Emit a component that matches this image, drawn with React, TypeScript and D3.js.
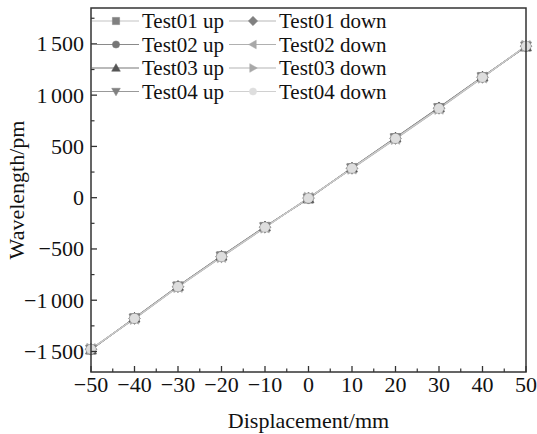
import React from "react";
import * as d3 from "d3";

const displacement = [-50, -40, -30, -20, -10, 0, 10, 20, 30, 40, 50];
const test01Up = [-1480, -1176, -866, -572, -286, -6, 288, 580, 874, 1176, 1476];
const test01Down = [-1478, -1178, -868, -576, -288, -4, 286, 578, 872, 1174, 1478];
const test02Up = [-1482, -1174, -864, -570, -284, -8, 290, 584, 878, 1178, 1474];
const test02Down = [-1476, -1180, -870, -578, -290, -2, 284, 574, 868, 1172, 1480];
const test03Up = [-1484, -1172, -862, -568, -282, -10, 292, 586, 880, 1180, 1472];
const test03Down = [-1474, -1182, -872, -580, -292, 0, 282, 572, 866, 1170, 1482];
const test04Up = [-1480, -1175, -865, -570, -285, -6, 289, 582, 876, 1177, 1477];
const test04Down = [-1478, -1177, -868, -575, -288, -5, 287, 578, 871, 1174, 1478];

const xTicks = [-50, -40, -30, -20, -10, 0, 10, 20, 30, 40, 50];
const xTickLabels = ["\u221250", "\u221240", "\u221230", "\u221220", "\u221210", "0", "10", "20", "30", "40", "50"];
const yTicks = [-1500, -1000, -500, 0, 500, 1000, 1500];
const yTickLabels = ["\u22121 500", "\u22121 000", "\u2212500", "0", "500", "1 000", "1 500"];

const seriesNames = ["Test01 up", "Test02 up", "Test03 up", "Test04 up", "Test01 down", "Test02 down", "Test03 down", "Test04 down"];

type S = { name: string; values: number[]; shape: string; fill: string; line: string };

const series: S[] = [
  { name: "Test01 up", values: test01Up, shape: "square", fill: "#808080", line: "#c4c4c4" },
  { name: "Test01 down", values: test01Down, shape: "diamond", fill: "#808080", line: "#b8b8b8" },
  { name: "Test02 up", values: test02Up, shape: "circle", fill: "#777777", line: "#8a8a8a" },
  { name: "Test02 down", values: test02Down, shape: "left", fill: "#a8a8a8", line: "#b0b0b0" },
  { name: "Test03 up", values: test03Up, shape: "up", fill: "#555555", line: "#777777" },
  { name: "Test03 down", values: test03Down, shape: "right", fill: "#a8a8a8", line: "#b4b4b4" },
  { name: "Test04 up", values: test04Up, shape: "down", fill: "#808080", line: "#999999" },
  { name: "Test04 down", values: test04Down, shape: "circle", fill: "#dedede", line: "#d0d0d0" },
];

const W = 537, H = 434;
const L = 91, R = 526, T = 8, B = 372;
const FONT = "'Liberation Serif', 'Times New Roman', serif";

function markerPath(shape: string, r: number): string {
  switch (shape) {
    case "square": return `M${-r},${-r}H${r}V${r}H${-r}Z`;
    case "diamond": return `M0,${-r * 1.3}L${r * 1.3},0L0,${r * 1.3}L${-r * 1.3},0Z`;
    case "circle": return `M${r},0A${r},${r} 0 1,1 ${-r},0A${r},${r} 0 1,1 ${r},0Z`;
    case "up": return `M0,${-r * 1.2}L${r * 1.2},${r * 0.9}L${-r * 1.2},${r * 0.9}Z`;
    case "down": return `M0,${r * 1.2}L${r * 1.2},${-r * 0.9}L${-r * 1.2},${-r * 0.9}Z`;
    case "left": return `M${-r * 1.2},0L${r * 0.9},${-r * 1.2}L${r * 0.9},${r * 1.2}Z`;
    case "right": return `M${r * 1.2},0L${-r * 0.9},${-r * 1.2}L${-r * 0.9},${r * 1.2}Z`;
  }
  return "";
}

function splitLabel(s: string) {
  const parts = s.split(" ");
  if (parts.length === 1) return s;
  return (
    <>
      <tspan>{parts[0]}</tspan>
      <tspan dx={3.5}>{parts[1]}</tspan>
    </>
  );
}

export default function App() {
  const x = d3.scaleLinear().domain([-50, 50]).range([L, R]);
  const y = d3.scaleLinear().domain([-1700, 1850]).range([B, T]);
  const line = d3.line<number>().x((_, i) => x(displacement[i])).y((v) => y(v));
  const xMinor = d3.range(-45, 50, 10);
  const yMinor = d3.range(-1750, 1851, 500).filter((v) => v >= -1700 && v <= 1850);

  const legendRows = [21, 44.5, 68, 91.5];
  const legendCols = [{ x0: 92, xm: 116, x1: 139, tx: 142 }, { x0: 229, xm: 253, x1: 276, tx: 279 }];

  return (
    <svg width={W} height={H} style={{ position: "absolute", left: 0, top: 0, background: "#fff" }} fontFamily={FONT}>
      {series.map((s) => (
        <path key={s.name + "l"} d={line(s.values) || ""} fill="none" stroke={s.line} strokeWidth={1.1} />
      ))}
      {series.map((s) => (
        <g key={s.name + "m"}>
          {s.values.map((v, i) => (
            <path key={i} d={markerPath(s.shape, 4.6)} transform={`translate(${x(displacement[i])},${y(v)})`}
              fill={s.fill} stroke={s.fill} strokeWidth={0.6} />
          ))}
        </g>
      ))}
      <rect x={L} y={T} width={R - L} height={B - T} fill="none" stroke="#333" strokeWidth={1.5} />
      {xTicks.map((t, i) => (
        <g key={"xt" + t}>
          <line x1={x(t)} x2={x(t)} y1={B} y2={B - 6} stroke="#333" strokeWidth={1.3} />
          <text x={x(t)} y={392} fontSize={22} textAnchor="middle" fill="#111">{xTickLabels[i]}</text>
        </g>
      ))}
      {xMinor.map((t) => (
        <line key={"xm" + t} x1={x(t)} x2={x(t)} y1={B} y2={B - 3.5} stroke="#333" strokeWidth={1.2} />
      ))}
      {yTicks.map((t, i) => (
        <g key={"yt" + t}>
          <line x1={L} x2={L + 6} y1={y(t)} y2={y(t)} stroke="#333" strokeWidth={1.3} />
          <text x={84} y={y(t) + 7.5} fontSize={22} textAnchor="end" fill="#111">{splitLabel(yTickLabels[i])}</text>
        </g>
      ))}
      {yMinor.map((t) => (
        <line key={"ym" + t} x1={L} x2={L + 3.5} y1={y(t)} y2={y(t)} stroke="#333" strokeWidth={1.2} />
      ))}
      <text x={(L + R) / 2} y={428} fontSize={22} textAnchor="middle" fill="#111">Displacement/mm</text>
      <text transform={`translate(24,${(T + B) / 2}) rotate(-90)`} fontSize={22} textAnchor="middle" fill="#111">Wavelength/pm</text>
      {series.map((s) => {
        const idx = seriesNames.indexOf(s.name);
        const col = legendCols[Math.floor(idx / 4)];
        const ry = legendRows[idx % 4];
        return (
          <g key={s.name + "lg"}>
            <line x1={col.x0} x2={col.x1} y1={ry} y2={ry} stroke={s.line} strokeWidth={1.2} />
            <path d={markerPath(s.shape, 3.6)} transform={`translate(${col.xm},${ry})`} fill={s.fill} stroke={s.fill} strokeWidth={0.5} />
            <text x={col.tx} y={ry + 7} fontSize={21} fill="#111">{s.name}</text>
          </g>
        );
      })}
    </svg>
  );
}
